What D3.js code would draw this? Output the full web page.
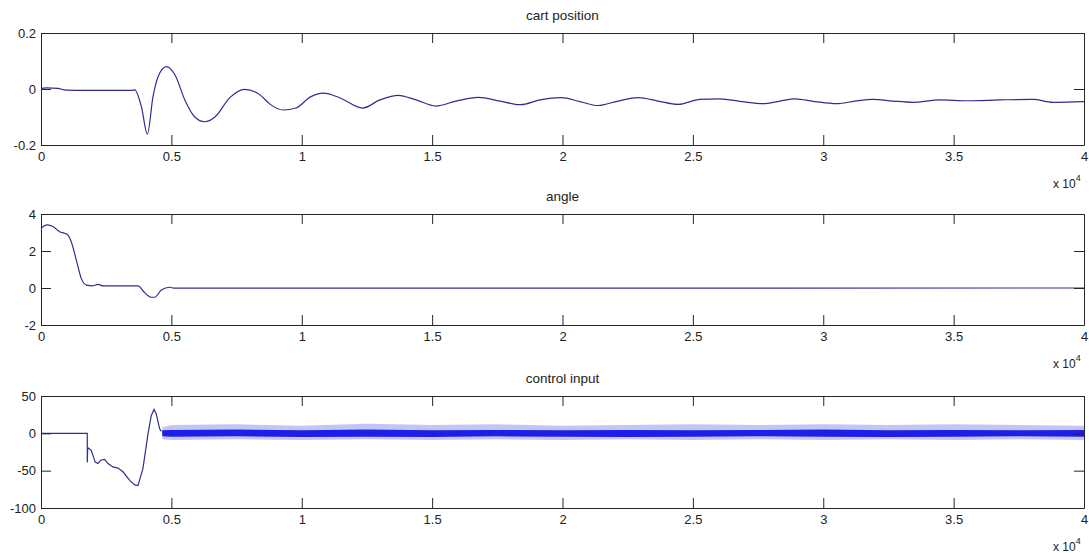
<!DOCTYPE html>
<html>
<head>
<meta charset="utf-8">
<script src="https://cdn.jsdelivr.net/npm/d3@7"></script>
<style>
body { margin: 0; background: #fff; }
svg { display: block; background: #fff; font-family: "Liberation Sans", Arial, sans-serif; }
.axis text { font-size: 13px; fill: #222; font-family: "Liberation Sans", Arial, sans-serif; }
.axis path, .axis line { stroke: #262626; }
.chart-title { font-size: 13.5px; fill: #222; }
.exp-label { font-size: 12px; fill: #222; }
</style>
</head>
<body>
<svg id="fig"></svg>
<script>
// x ticks shared by all three panels (sample index, shown as x 10^4)
const xTickValues = [0, 5000, 10000, 15000, 20000, 25000, 30000, 35000, 40000];

// cart position
const cartT = [0, 230, 650, 960, 1880, 3530, 3590, 3850, 4080, 4295, 4490, 4805, 5140, 5520, 5900, 6280, 6670, 7250, 7810,
  8400, 8780, 9280, 9780, 10320, 10830, 11470, 12330, 13000, 13700, 14380, 15150, 15920, 16770, 17600, 18390,
  19140, 19940, 20670, 21360, 22130, 22900, 23660, 24430, 25270, 26040, 26880, 27690, 28340, 28920, 29680,
  30520, 31220, 31910, 32670, 33440, 34480, 35510, 36780, 38040, 38810, 40000];
const cartPos = [0.0025, 0.004, 0.002, -0.004, -0.005, -0.005, -0.002, -0.063, -0.161, -0.0275, 0.044, 0.080, 0.05, -0.04, -0.10, -0.117, -0.10, -0.03, -0.001,
  -0.021, -0.054, -0.075, -0.068, -0.029, -0.015, -0.032, -0.068, -0.039, -0.0225, -0.039, -0.061, -0.043, -0.030, -0.043, -0.056,
  -0.039, -0.031, -0.045, -0.059, -0.043, -0.031, -0.043, -0.055, -0.037, -0.035, -0.045, -0.0525, -0.043, -0.035, -0.045,
  -0.0525, -0.043, -0.037, -0.043, -0.0475, -0.039, -0.042, -0.039, -0.037, -0.0475, -0.045];
const cartTicks = [-0.2, 0, 0.2];

// angle
const angleT = [0, 240, 460, 717, 910, 1035, 1160, 1355, 1545, 1740, 1995, 2185, 2380, 3720, 3975, 4230, 4360, 4615, 4935, 5100, 40000];
const angleVal = [3.23, 3.41, 3.32, 3.04, 2.96, 2.86, 2.50, 1.51, 0.52, 0.16, 0.12, 0.2, 0.11, 0.11, -0.25, -0.50, -0.50, -0.11, 0.04, -0.01, 0];
const angleTicks = [-2, 0, 2, 4];

// control input (transient part)
const ctrlT = [0, 1775, 1776, 1790, 1930, 2080, 2185, 2290, 2440, 2570, 2760, 2950, 3145, 3400, 3595, 3720, 3910, 4105, 4230, 4335, 4420, 4550, 4615];
const ctrlVal = [0, 0, -39, -19, -23, -38.5, -40.5, -36, -35, -40.5, -45, -46.5, -51.5, -63, -69, -70, -47, -0.5, 24, 32, 26, 6, 2.7];
const ctrlTicks = [-100, -50, 0, 50];

// control input chatter after settling: read envelope of the band
const noiseT = [4650, 5000, 7500, 10000, 12500, 15000, 17500, 20000, 22500, 25000, 27500, 30000, 32500, 35000, 37500, 40000];
const noiseCoreHi = [4, 4.5, 5, 4, 5, 4, 4.5, 4, 4.5, 4, 4.5, 5, 4, 4.5, 4, 4.5];
const noiseCoreLo = [-4, -4.5, -4, -5, -4.5, -5, -4, -4.5, -5, -4.5, -4, -4.5, -5, -4.5, -4, -4.5];
const noiseOuterHi = [8, 11, 12, 10, 13, 11, 12, 10, 11, 12, 11, 12, 11, 12, 11, 10];
const noiseOuterLo = [-8, -9, -8, -9, -8, -9, -8, -9, -8, -9, -8, -9, -8, -9, -8, -9];

const svg = d3.select('#fig').attr('width', 1089).attr('height', 553);

class TracePanel {
    constructor(_config, _data) {
        this.config = {
            top: _config.top,
            height: _config.height,
            left: _config.left || 41,
            width: _config.width || 1043,
            yDomain: _config.yDomain,
            yTicks: _config.yTicks,
            title: _config.title,
            curve: _config.curve || d3.curveLinear,
            band: _config.band || null
        }
        this.data = _data;
        this.initVis();
    }

    initVis() {
        let vis = this;
        vis.width = vis.config.width;
        vis.height = vis.config.height;

        vis.xScale = d3.scaleLinear().domain([0, 40000]).range([0, vis.width]);
        vis.yScale = d3.scaleLinear().domain(vis.config.yDomain).range([vis.height, 0]);

        vis.chart = svg.append('g')
            .attr('transform', `translate(${vis.config.left},${vis.config.top})`);

        // MATLAB style box: ticks point inwards on all four sides
        vis.xAxis = d3.axisBottom(vis.xScale).tickValues(xTickValues)
            .tickSizeInner(-10).tickSizeOuter(0).tickPadding(7)
            .tickFormat(d => d / 10000);
        vis.xAxisTop = d3.axisTop(vis.xScale).tickValues(xTickValues)
            .tickSizeInner(-10).tickSizeOuter(0).tickFormat('');
        vis.yAxis = d3.axisLeft(vis.yScale).tickValues(vis.config.yTicks)
            .tickSizeInner(-10).tickSizeOuter(0).tickPadding(5)
            .tickFormat(d => d);
        vis.yAxisRight = d3.axisRight(vis.yScale).tickValues(vis.config.yTicks)
            .tickSizeInner(-10).tickSizeOuter(0).tickFormat('');

        vis.title = vis.chart.append('text')
            .attr('class', 'chart-title')
            .attr('x', vis.width / 2)
            .attr('y', -13)
            .attr('text-anchor', 'middle')
            .text(vis.config.title);

        // x 10^4 exponent label
        vis.chart.append('text')
            .attr('class', 'exp-label')
            .attr('x', vis.width - 31)
            .attr('y', vis.height + 43)
            .text('x 10')
            .append('tspan')
            .attr('dy', -7)
            .attr('font-size', '9px')
            .text('4');

        vis.renderVis();
    }

    renderVis() {
        let vis = this;

        if (vis.config.band) {
            const b = vis.config.band;
            const outer = d3.area()
                .x((d, i) => vis.xScale(b.t[i]))
                .y0((d, i) => vis.yScale(b.outerLo[i]))
                .y1((d, i) => vis.yScale(b.outerHi[i]));
            const core = d3.area()
                .x((d, i) => vis.xScale(b.t[i]))
                .y0((d, i) => vis.yScale(b.coreLo[i]))
                .y1((d, i) => vis.yScale(b.coreHi[i]));
            vis.chart.append('path')
                .attr('d', outer(b.t))
                .attr('fill', '#8c8cec')
                .attr('opacity', 0.5);
            vis.chart.append('path')
                .attr('d', core(b.t))
                .attr('fill', '#1e1ee6');
        }

        const line = d3.line()
            .x((d, i) => vis.xScale(vis.data.t[i]))
            .y((d, i) => vis.yScale(vis.data.v[i]))
            .curve(vis.config.curve);

        vis.chart.append('path')
            .attr('d', line(vis.data.t))
            .attr('fill', 'none')
            .attr('stroke', '#2e2e92')
            .attr('stroke-width', 1.2);

        vis.chart.append('g').attr('class', 'axis x-axis')
            .attr('transform', `translate(0,${vis.height})`)
            .call(vis.xAxis);
        vis.chart.append('g').attr('class', 'axis x-axis-top')
            .call(vis.xAxisTop);
        vis.chart.append('g').attr('class', 'axis y-axis')
            .call(vis.yAxis);
        vis.chart.append('g').attr('class', 'axis y-axis-right')
            .attr('transform', `translate(${vis.width},0)`)
            .call(vis.yAxisRight);

        svg.selectAll('.axis text').attr('font-size', null).attr('font-family', null);
    }
}

new TracePanel({top: 33, height: 112, yDomain: [-0.2, 0.2], yTicks: cartTicks, title: 'cart position', curve: d3.curveMonotoneX},
    {t: cartT, v: cartPos});
new TracePanel({top: 214, height: 111, yDomain: [-2, 4], yTicks: angleTicks, title: 'angle', curve: d3.curveMonotoneX},
    {t: angleT, v: angleVal});
new TracePanel({top: 396, height: 112, yDomain: [-100, 50], yTicks: ctrlTicks, title: 'control input',
    band: {t: noiseT, coreHi: noiseCoreHi, coreLo: noiseCoreLo, outerHi: noiseOuterHi, outerLo: noiseOuterLo}},
    {t: ctrlT, v: ctrlVal});
</script>
</body>
</html>
